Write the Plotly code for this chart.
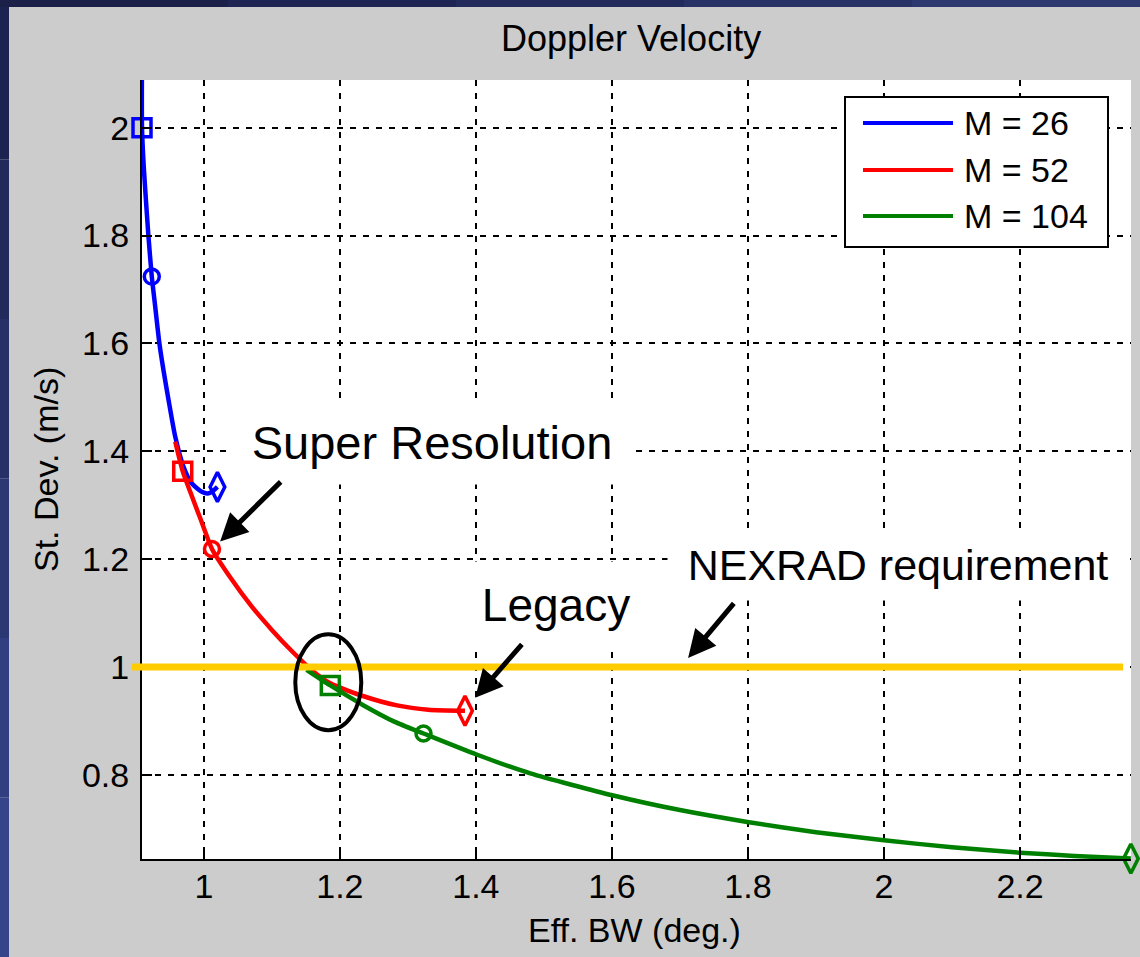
import plotly.graph_objects as go

# ---------------- data ----------------
series_names = ["M = 26", "M = 52", "M = 104"]
series_colors = ["#0000FF", "#FF0000", "#008000"]

blue_x = [0.9091, 0.9091, 0.9120, 0.9185, 0.9235, 0.9280, 0.9347, 0.9406, 0.9490, 0.9580,
          0.9700, 0.9820, 0.9970, 1.0060, 1.0130, 1.0200]
blue_y = [2.15, 2.000, 1.921, 1.800, 1.724, 1.674, 1.600, 1.551, 1.489, 1.427,
          1.372, 1.341, 1.325, 1.322, 1.326, 1.334]

red_x = [0.958, 0.969, 0.980, 0.995, 1.012, 1.039, 1.070, 1.100, 1.130, 1.160,
         1.186, 1.235, 1.284, 1.330, 1.384]
red_y = [1.418, 1.363, 1.325, 1.275, 1.219, 1.166, 1.113, 1.069, 1.029, 0.993,
         0.970, 0.946, 0.929, 0.921, 0.919]

green_x = [1.151, 1.186, 1.235, 1.280, 1.323, 1.401, 1.480, 1.602, 1.700, 1.799,
           1.900, 2.000, 2.100, 2.200, 2.280, 2.363]
green_y = [0.995, 0.966, 0.929, 0.899, 0.877, 0.838, 0.803, 0.762, 0.735, 0.713,
           0.694, 0.679, 0.666, 0.656, 0.650, 0.645]

# marked points (square, circle, diamond) for each series
blue_mx = [0.9091, 0.9235, 1.020]
blue_my = [2.000, 1.724, 1.334]
red_mx = [0.969, 1.012, 1.384]
red_my = [1.363, 1.219, 0.919]
green_mx = [1.186, 1.323, 2.363]
green_my = [0.966, 0.877, 0.645]
marker_symbols = ["square-open", "circle-open", "diamond-tall-open"]
marker_sizes = [18, 15, 21]

x_tickvals = [1.0, 1.2, 1.4, 1.6, 1.8, 2.0, 2.2]
x_ticktext = ["1", "1.2", "1.4", "1.6", "1.8", "2", "2.2"]
y_tickvals = [0.8, 1.0, 1.2, 1.4, 1.6, 1.8, 2.0]
y_ticktext = ["0.8", "1", "1.2", "1.4", "1.6", "1.8", "2"]
x_range = [0.9091, 2.3632]
y_range = [0.6443, 2.0884]

requirement = 1.0  # NEXRAD requirement

title_text = "Doppler Velocity"
x_title = "Eff. BW (deg.)"
y_title = "St. Dev. (m/s)"

# ---------------- layout geometry ----------------
W, H = 1140, 957
ML, MR, MT, MB = 142, 9, 80, 98
PW = W - ML - MR
PH = H - MT - MB


def px(xp):
    return (xp - ML) / PW


def py(yp):
    return (H - MB - yp) / PH


FONT = "Liberation Sans, Arial, Helvetica, sans-serif"

fig = go.Figure()

curves = [(blue_x, blue_y, blue_mx, blue_my),
          (red_x, red_y, red_mx, red_my),
          (green_x, green_y, green_mx, green_my)]

for (cx, cy, mx, my), name, col in zip(curves, series_names, series_colors):
    fig.add_trace(go.Scatter(x=cx, y=cy, mode="lines", name=name,
                             line=dict(color=col, width=4.5, shape="spline", smoothing=0.6),
                             showlegend=False, hoverinfo="skip"))
    fig.add_trace(go.Scatter(x=mx, y=my, mode="markers", name=name,
                             marker=dict(symbol=marker_symbols, size=marker_sizes,
                                         color=col, opacity=1,
                                         line=dict(color=col, width=3.5)),
                             cliponaxis=False, showlegend=False))

shapes = []
# slide background strips (dark blue)
left_cols = ["#1c2350", "#222a5c", "#273168", "#2c3874", "#313f80", "#36458a"]
n = len(left_cols)
for i, c in enumerate(left_cols):
    shapes.append(dict(type="rect", xref="paper", yref="paper",
                       x0=px(0), x1=px(9), y0=py(H * (i + 1) / n), y1=py(H * i / n),
                       fillcolor=c, line=dict(width=0), layer="below"))
top_cols = ["#1a2048", "#1e2552", "#232b5c", "#283266", "#2d386e"]
m = len(top_cols)
for i, c in enumerate(top_cols):
    shapes.append(dict(type="rect", xref="paper", yref="paper",
                       x0=px(W * i / m), x1=px(W * (i + 1) / m), y0=py(7), y1=py(0),
                       fillcolor=c, line=dict(width=0), layer="below"))

# NEXRAD requirement line
shapes.append(dict(type="line", xref="paper", yref="y", x0=px(132), x1=px(1123),
                   y0=requirement, y1=requirement,
                   line=dict(color="#FFCC00", width=7), layer="above"))

# ellipse around the green square
shapes.append(dict(type="circle", xref="x", yref="y",
                   xsizemode="pixel", ysizemode="pixel",
                   xanchor=green_mx[0] - 0.003, yanchor=green_my[0] + 0.006,
                   x0=-33, x1=33, y0=-48, y1=48,
                   line=dict(color="black", width=4), layer="above"))

# custom legend
shapes.append(dict(type="rect", xref="paper", yref="paper",
                   x0=px(845), x1=px(1108), y0=py(247), y1=py(97),
                   fillcolor="white", line=dict(color="black", width=2), layer="above"))
leg_y = [123, 170, 216]
for yy, col in zip(leg_y, series_colors):
    shapes.append(dict(type="line", xref="paper", yref="paper",
                       x0=px(863), x1=px(953), y0=py(yy), y1=py(yy),
                       line=dict(color=col, width=4), layer="above"))

annotations = []
for yy, name in zip(leg_y, series_names):
    annotations.append(dict(text=name, xref="paper", yref="paper", x=px(962), y=py(yy),
                            xanchor="left", yanchor="middle", showarrow=False,
                            font=dict(family=FONT, size=34, color="black")))

# text labels with white boxes
labels = [("Super Resolution", 432, 442, 404, 84, 47),
          ("Legacy", 556, 605, 196, 86, 46),
          ("NEXRAD requirement", 898, 565, 460, 70, 43)]
for txt, cx, cy, w, h, fs in labels:
    annotations.append(dict(text=txt, xref="paper", yref="paper", x=px(cx), y=py(cy),
                            xanchor="center", yanchor="middle", showarrow=False,
                            width=w, height=h, bgcolor="white", borderpad=0,
                            font=dict(family=FONT, size=fs, color="black")))

# arrows (head in data coords, tail offset in pixels)
arrows = [(1.024, 1.233, 62, -61),
          (1.399, 0.943, 48, -55),
          (1.712, 1.017, 47, -56)]
for hx, hy, axp, ayp in arrows:
    annotations.append(dict(text="", x=hx, y=hy, xref="x", yref="y",
                            ax=axp, ay=ayp, showarrow=True, arrowhead=2,
                            arrowsize=1.1, arrowwidth=5, arrowcolor="black", standoff=0))

# title and axis titles
annotations.append(dict(text=title_text, xref="paper", yref="paper", x=px(631), y=py(38),
                        xanchor="center", yanchor="middle", showarrow=False,
                        font=dict(family=FONT, size=36, color="black")))
annotations.append(dict(text=x_title, xref="paper", yref="paper", x=px(634), y=py(930),
                        xanchor="center", yanchor="middle", showarrow=False,
                        font=dict(family=FONT, size=34, color="black")))
annotations.append(dict(text=y_title, xref="paper", yref="paper", x=px(46), y=py(470),
                        xanchor="center", yanchor="middle", showarrow=False, textangle=-90,
                        font=dict(family=FONT, size=34, color="black")))

axis_common = dict(showgrid=True, gridcolor="black", gridwidth=2, griddash="6px,7px",
                   showline=True, linecolor="black", linewidth=2, zeroline=False,
                   ticks="inside", ticklen=10, tickwidth=2, tickcolor="black",
                   tickfont=dict(family=FONT, size=34, color="black"))

fig.update_layout(
    width=W, height=H,
    margin=dict(l=ML, r=MR, t=MT, b=MB, pad=0),
    paper_bgcolor="#cccccc",
    plot_bgcolor="white",
    showlegend=False,
    shapes=shapes,
    annotations=annotations,
    xaxis=dict(range=x_range, tickmode="array", tickvals=x_tickvals, ticktext=x_ticktext,
               ticklabelstandoff=-4, **axis_common),
    yaxis=dict(range=y_range, tickmode="array", tickvals=y_tickvals, ticktext=y_ticktext,
               ticklabelstandoff=4, **axis_common),
)

fig.write_html("out.html", config={"displayModeBar": False},
               post_script="document.body.style.margin='0px';document.body.style.overflow='hidden';")
